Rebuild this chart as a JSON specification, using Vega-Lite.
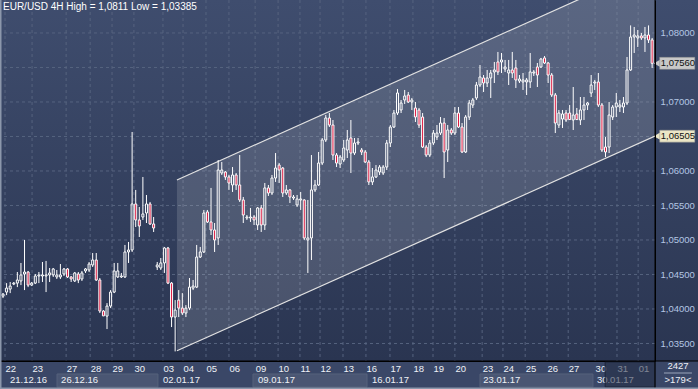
{
"$schema": "https://vega.github.io/schema/vega-lite/v6.json",
"width": 655, "height": 361,
"autosize": {"type": "none"},
"padding": {"left": 0, "top": 0, "right": 43, "bottom": 28},
"background": "#3a4767",
"title": {"text": "EUR/USD 4H High = 1,0811 Low = 1,03385", "anchor": "start", "frame": "group", "offset": -13, "fontSize": 10, "fontWeight": "normal", "font": "Liberation Sans", "color": "#ffffff", "dx": 3},
"resolve": {"axis": {"x": "independent", "y": "independent"}},
"datasets": {
"candles": [
{"i":1,"o":1.04187,"h":1.0423,"l":1.04158,"c":1.04216},
{"i":2,"o":1.04245,"h":1.04375,"l":1.04201,"c":1.04303},
{"i":3,"o":1.04288,"h":1.04391,"l":1.0423,"c":1.04332},
{"i":4,"o":1.04361,"h":1.04391,"l":1.04346,"c":1.04375},
{"i":5,"o":1.04375,"h":1.04536,"l":1.04317,"c":1.0442},
{"i":6,"o":1.04406,"h":1.04667,"l":1.04346,"c":1.04493},
{"i":7,"o":1.04507,"h":1.05,"l":1.04274,"c":1.04536},
{"i":8,"o":1.04536,"h":1.04551,"l":1.04317,"c":1.04346},
{"i":9,"o":1.04346,"h":1.04391,"l":1.04332,"c":1.04375},
{"i":10,"o":1.04375,"h":1.04507,"l":1.04361,"c":1.04478},
{"i":11,"o":1.04478,"h":1.04536,"l":1.04375,"c":1.04493},
{"i":12,"o":1.04478,"h":1.04681,"l":1.04391,"c":1.04493},
{"i":13,"o":1.04478,"h":1.04696,"l":1.04245,"c":1.04493},
{"i":14,"o":1.04493,"h":1.04594,"l":1.04391,"c":1.04522},
{"i":15,"o":1.04493,"h":1.04594,"l":1.04464,"c":1.0458},
{"i":16,"o":1.04464,"h":1.04565,"l":1.04435,"c":1.04493},
{"i":17,"o":1.04464,"h":1.04652,"l":1.04435,"c":1.04493},
{"i":18,"o":1.04507,"h":1.04594,"l":1.04478,"c":1.0458},
{"i":19,"o":1.0458,"h":1.04594,"l":1.04449,"c":1.04464},
{"i":20,"o":1.04464,"h":1.04478,"l":1.04391,"c":1.04435},
{"i":21,"o":1.04406,"h":1.04536,"l":1.04391,"c":1.04522},
{"i":22,"o":1.04507,"h":1.04536,"l":1.04375,"c":1.0442},
{"i":23,"o":1.04435,"h":1.04551,"l":1.04406,"c":1.04522},
{"i":24,"o":1.04551,"h":1.04594,"l":1.04522,"c":1.0458},
{"i":25,"o":1.04565,"h":1.04681,"l":1.04536,"c":1.04652},
{"i":26,"o":1.04638,"h":1.04811,"l":1.04609,"c":1.0471},
{"i":27,"o":1.0471,"h":1.04811,"l":1.04406,"c":1.0442},
{"i":28,"o":1.0442,"h":1.04449,"l":1.03941,"c":1.0397},
{"i":29,"o":1.0397,"h":1.03984,"l":1.03897,"c":1.039},
{"i":30,"o":1.03897,"h":1.04085,"l":1.03709,"c":1.04042},
{"i":31,"o":1.04042,"h":1.04274,"l":1.04013,"c":1.04245},
{"i":32,"o":1.04245,"h":1.04667,"l":1.0423,"c":1.04551},
{"i":33,"o":1.04464,"h":1.04667,"l":1.04449,"c":1.04551},
{"i":34,"o":1.04464,"h":1.04522,"l":1.04449,"c":1.04478},
{"i":35,"o":1.04464,"h":1.04928,"l":1.04449,"c":1.04826},
{"i":36,"o":1.04826,"h":1.04971,"l":1.04667,"c":1.04855},
{"i":37,"o":1.04855,"h":1.06565,"l":1.04826,"c":1.05522},
{"i":38,"o":1.05522,"h":1.05725,"l":1.05188,"c":1.0529},
{"i":39,"o":1.0529,"h":1.05478,"l":1.05043,"c":1.05203},
{"i":40,"o":1.05333,"h":1.05913,"l":1.0529,"c":1.05377},
{"i":41,"o":1.05391,"h":1.05652,"l":1.05246,"c":1.05522},
{"i":42,"o":1.05522,"h":1.05551,"l":1.05217,"c":1.05232},
{"i":43,"o":1.05232,"h":1.05333,"l":1.05116,"c":1.05174},
{"i":44,"o":1.04609,"h":1.04681,"l":1.04565,"c":1.04638},
{"i":45,"o":1.04594,"h":1.04739,"l":1.04565,"c":1.04667},
{"i":46,"o":1.04667,"h":1.04899,"l":1.04522,"c":1.04884},
{"i":47,"o":1.04884,"h":1.04899,"l":1.04361,"c":1.04375},
{"i":48,"o":1.04375,"h":1.04391,"l":1.03738,"c":1.03883},
{"i":49,"o":1.03883,"h":1.04129,"l":1.03385,"c":1.03984},
{"i":50,"o":1.04129,"h":1.04274,"l":1.03883,"c":1.04013},
{"i":51,"o":1.04013,"h":1.0423,"l":1.03912,"c":1.03941},
{"i":52,"o":1.03941,"h":1.04056,"l":1.03883,"c":1.04013},
{"i":53,"o":1.04013,"h":1.04449,"l":1.03984,"c":1.04317},
{"i":54,"o":1.04303,"h":1.0442,"l":1.04274,"c":1.04332},
{"i":55,"o":1.04317,"h":1.04928,"l":1.04303,"c":1.04753},
{"i":56,"o":1.04753,"h":1.04899,"l":1.04739,"c":1.04826},
{"i":57,"o":1.04826,"h":1.05435,"l":1.04811,"c":1.05391},
{"i":58,"o":1.05406,"h":1.05435,"l":1.05246,"c":1.05261},
{"i":59,"o":1.05261,"h":1.05754,"l":1.05072,"c":1.05145},
{"i":60,"o":1.05145,"h":1.05246,"l":1.04826,"c":1.05},
{"i":61,"o":1.05029,"h":1.06159,"l":1.04928,"c":1.06014},
{"i":62,"o":1.05971,"h":1.0613,"l":1.05942,"c":1.06014},
{"i":63,"o":1.05985,"h":1.06,"l":1.0587,"c":1.05913},
{"i":64,"o":1.05913,"h":1.05942,"l":1.05725,"c":1.05826},
{"i":65,"o":1.05797,"h":1.06057,"l":1.05696,"c":1.05942},
{"i":66,"o":1.05942,"h":1.05971,"l":1.05725,"c":1.05797},
{"i":67,"o":1.05797,"h":1.06231,"l":1.05551,"c":1.0558},
{"i":68,"o":1.0558,"h":1.05623,"l":1.05246,"c":1.05362},
{"i":69,"o":1.05319,"h":1.05362,"l":1.0529,"c":1.05333},
{"i":70,"o":1.05319,"h":1.05464,"l":1.05261,"c":1.05333},
{"i":71,"o":1.05333,"h":1.05362,"l":1.05217,"c":1.0529},
{"i":72,"o":1.05217,"h":1.05478,"l":1.05145,"c":1.05464},
{"i":73,"o":1.05464,"h":1.05507,"l":1.05116,"c":1.05217},
{"i":74,"o":1.05217,"h":1.05826,"l":1.05145,"c":1.05754},
{"i":75,"o":1.05754,"h":1.05797,"l":1.05638,"c":1.05681},
{"i":76,"o":1.05681,"h":1.05942,"l":1.05652,"c":1.05898},
{"i":77,"o":1.05898,"h":1.0626,"l":1.05841,"c":1.06043},
{"i":78,"o":1.06086,"h":1.06115,"l":1.05826,"c":1.06014},
{"i":79,"o":1.06043,"h":1.06057,"l":1.05623,"c":1.05681},
{"i":80,"o":1.05681,"h":1.05797,"l":1.05652,"c":1.05725},
{"i":81,"o":1.05725,"h":1.05739,"l":1.05536,"c":1.05623},
{"i":82,"o":1.05608,"h":1.05652,"l":1.0558,"c":1.05623},
{"i":83,"o":1.05507,"h":1.05652,"l":1.05478,"c":1.05594},
{"i":84,"o":1.0558,"h":1.05696,"l":1.05435,"c":1.05594},
{"i":85,"o":1.0558,"h":1.0559,"l":1.05,"c":1.05029},
{"i":86,"o":1.05,"h":1.0558,"l":1.04522,"c":1.05029},
{"i":87,"o":1.05029,"h":1.06231,"l":1.0471,"c":1.05725},
{"i":88,"o":1.05725,"h":1.0587,"l":1.05696,"c":1.05797},
{"i":89,"o":1.05797,"h":1.06275,"l":1.05783,"c":1.06115},
{"i":90,"o":1.06115,"h":1.06478,"l":1.06086,"c":1.06449},
{"i":91,"o":1.06449,"h":1.06811,"l":1.0642,"c":1.06768},
{"i":92,"o":1.06768,"h":1.0684,"l":1.06637,"c":1.06666},
{"i":93,"o":1.06666,"h":1.06739,"l":1.06159,"c":1.06231},
{"i":94,"o":1.06231,"h":1.0626,"l":1.06057,"c":1.06115},
{"i":95,"o":1.06101,"h":1.06231,"l":1.06043,"c":1.06202},
{"i":96,"o":1.06159,"h":1.06449,"l":1.0613,"c":1.06333},
{"i":97,"o":1.06304,"h":1.06594,"l":1.06188,"c":1.06449},
{"i":98,"o":1.06478,"h":1.06739,"l":1.05971,"c":1.0626},
{"i":99,"o":1.0626,"h":1.06478,"l":1.06231,"c":1.06405},
{"i":100,"o":1.06405,"h":1.06478,"l":1.06376,"c":1.0642},
{"i":101,"o":1.06304,"h":1.06333,"l":1.06231,"c":1.06275},
{"i":102,"o":1.06275,"h":1.06304,"l":1.06115,"c":1.0613},
{"i":103,"o":1.0613,"h":1.06159,"l":1.05797,"c":1.05841},
{"i":104,"o":1.05841,"h":1.06043,"l":1.05797,"c":1.05913},
{"i":105,"o":1.05913,"h":1.06086,"l":1.05898,"c":1.06014},
{"i":106,"o":1.05985,"h":1.06086,"l":1.05942,"c":1.06057},
{"i":107,"o":1.05971,"h":1.06086,"l":1.05942,"c":1.06057},
{"i":108,"o":1.06057,"h":1.06449,"l":1.06014,"c":1.06405},
{"i":109,"o":1.06405,"h":1.06666,"l":1.06347,"c":1.06637},
{"i":110,"o":1.06637,"h":1.06884,"l":1.06623,"c":1.0684},
{"i":111,"o":1.0684,"h":1.07188,"l":1.06811,"c":1.0713},
{"i":112,"o":1.06884,"h":1.07029,"l":1.0684,"c":1.06985},
{"i":113,"o":1.07029,"h":1.07174,"l":1.06971,"c":1.07087},
{"i":114,"o":1.07101,"h":1.07145,"l":1.06985,"c":1.07},
{"i":115,"o":1.07,"h":1.07058,"l":1.06884,"c":1.07029},
{"i":116,"o":1.06913,"h":1.07,"l":1.0671,"c":1.06782},
{"i":117,"o":1.06884,"h":1.06913,"l":1.06623,"c":1.06666},
{"i":118,"o":1.06782,"h":1.0684,"l":1.06333,"c":1.06347},
{"i":119,"o":1.06347,"h":1.06376,"l":1.06202,"c":1.06231},
{"i":120,"o":1.06231,"h":1.06449,"l":1.06202,"c":1.06405},
{"i":121,"o":1.06405,"h":1.06594,"l":1.06376,"c":1.0655},
{"i":122,"o":1.06492,"h":1.06666,"l":1.06449,"c":1.0655},
{"i":123,"o":1.0655,"h":1.06782,"l":1.06521,"c":1.06695},
{"i":124,"o":1.06695,"h":1.06768,"l":1.05898,"c":1.06275},
{"i":125,"o":1.06304,"h":1.06666,"l":1.0613,"c":1.06594},
{"i":126,"o":1.06594,"h":1.06623,"l":1.06521,"c":1.0655},
{"i":127,"o":1.0655,"h":1.06927,"l":1.06521,"c":1.0684},
{"i":128,"o":1.0684,"h":1.06927,"l":1.06623,"c":1.06637},
{"i":129,"o":1.06637,"h":1.06695,"l":1.0626,"c":1.06275},
{"i":130,"o":1.06275,"h":1.06811,"l":1.0626,"c":1.06782},
{"i":131,"o":1.06782,"h":1.07029,"l":1.06739,"c":1.06985},
{"i":132,"o":1.06956,"h":1.07058,"l":1.06913,"c":1.07029},
{"i":133,"o":1.07058,"h":1.0729,"l":1.07029,"c":1.07246},
{"i":134,"o":1.07246,"h":1.07536,"l":1.07217,"c":1.07362},
{"i":135,"o":1.07348,"h":1.07391,"l":1.07145,"c":1.07275},
{"i":136,"o":1.07275,"h":1.07464,"l":1.07217,"c":1.07348},
{"i":137,"o":1.07348,"h":1.07464,"l":1.07058,"c":1.0742},
{"i":138,"o":1.07435,"h":1.0758,"l":1.07275,"c":1.07464},
{"i":139,"o":1.0758,"h":1.07725,"l":1.07391,"c":1.07435},
{"i":140,"o":1.0758,"h":1.0771,"l":1.0742,"c":1.07609},
{"i":141,"o":1.07478,"h":1.07609,"l":1.07435,"c":1.07507},
{"i":142,"o":1.0742,"h":1.07609,"l":1.07246,"c":1.07464},
{"i":143,"o":1.07464,"h":1.07725,"l":1.07348,"c":1.0742},
{"i":144,"o":1.07493,"h":1.07609,"l":1.07203,"c":1.07319},
{"i":145,"o":1.07304,"h":1.07391,"l":1.07275,"c":1.07333},
{"i":146,"o":1.0729,"h":1.0742,"l":1.07174,"c":1.07319},
{"i":147,"o":1.0729,"h":1.07348,"l":1.07101,"c":1.07319},
{"i":148,"o":1.0729,"h":1.0771,"l":1.07203,"c":1.07435},
{"i":149,"o":1.0742,"h":1.07464,"l":1.07377,"c":1.07435},
{"i":150,"o":1.07507,"h":1.07565,"l":1.07217,"c":1.07391},
{"i":151,"o":1.07507,"h":1.07638,"l":1.07493,"c":1.07623},
{"i":152,"o":1.07638,"h":1.07666,"l":1.07551,"c":1.07565},
{"i":153,"o":1.07565,"h":1.0758,"l":1.07275,"c":1.07391},
{"i":154,"o":1.07391,"h":1.0742,"l":1.07072,"c":1.07101},
{"i":155,"o":1.07101,"h":1.0713,"l":1.0655,"c":1.06695},
{"i":156,"o":1.06666,"h":1.06884,"l":1.06623,"c":1.0684},
{"i":157,"o":1.06753,"h":1.06884,"l":1.06623,"c":1.06826},
{"i":158,"o":1.0684,"h":1.06884,"l":1.0671,"c":1.06739},
{"i":159,"o":1.0684,"h":1.06956,"l":1.06739,"c":1.06745},
{"i":160,"o":1.06739,"h":1.07217,"l":1.06594,"c":1.06811},
{"i":161,"o":1.06826,"h":1.06913,"l":1.06739,"c":1.06745},
{"i":162,"o":1.06739,"h":1.07072,"l":1.06666,"c":1.06884},
{"i":163,"o":1.06884,"h":1.07072,"l":1.06739,"c":1.06956},
{"i":164,"o":1.06956,"h":1.07,"l":1.06884,"c":1.06985},
{"i":165,"o":1.0713,"h":1.07391,"l":1.07072,"c":1.07246},
{"i":166,"o":1.07275,"h":1.07319,"l":1.07174,"c":1.0729},
{"i":167,"o":1.0729,"h":1.0742,"l":1.06927,"c":1.06956},
{"i":168,"o":1.06956,"h":1.06985,"l":1.06275,"c":1.06304},
{"i":169,"o":1.06347,"h":1.06492,"l":1.06202,"c":1.06275},
{"i":170,"o":1.06347,"h":1.07,"l":1.0626,"c":1.06811},
{"i":171,"o":1.06782,"h":1.06956,"l":1.06739,"c":1.06927},
{"i":172,"o":1.06927,"h":1.0713,"l":1.06782,"c":1.06985},
{"i":173,"o":1.06927,"h":1.07029,"l":1.06855,"c":1.06956},
{"i":174,"o":1.06927,"h":1.07072,"l":1.0684,"c":1.06985},
{"i":175,"o":1.06985,"h":1.07652,"l":1.06956,"c":1.07464},
{"i":176,"o":1.07464,"h":1.0811,"l":1.0745,"c":1.07942},
{"i":177,"o":1.07942,"h":1.08087,"l":1.0771,"c":1.07971},
{"i":178,"o":1.07928,"h":1.08043,"l":1.07797,"c":1.07957},
{"i":179,"o":1.07957,"h":1.08,"l":1.07899,"c":1.07928},
{"i":180,"o":1.07928,"h":1.08087,"l":1.07725,"c":1.07971},
{"i":181,"o":1.07971,"h":1.0811,"l":1.07855,"c":1.07899},
{"i":182,"o":1.07899,"h":1.07928,"l":1.07493,"c":1.0756}
],
"channel": [{"i":49.5,"lo":1.03394,"hi":1.0587},{"i":182.8,"lo":1.06505,"hi":1.08981}],
"gx": [{"i":1.56},{"i":9.1},{"i":18.6},{"i":25.3},{"i":31.4},{"i":37.5},{"i":45.6},{"i":51.2},{"i":57.6},{"i":64},{"i":71.3},{"i":77.7},{"i":83.8},{"i":89.4},{"i":95.8},{"i":102.2},{"i":108.9},{"i":115.3},{"i":120.9},{"i":127},{"i":134.6},{"i":140.4},{"i":146.6},{"i":152.7},{"i":158.6},{"i":166.1},{"i":172.2},{"i":178.1}],
"gy": [{"p":1.035},{"p":1.04},{"p":1.045},{"p":1.05},{"p":1.055},{"p":1.06},{"p":1.065},{"p":1.07},{"p":1.075},{"p":1.08}],
"weeks": [{"i":2.95,"t":"21.12.16"},{"i":17.2,"t":"26.12.16"},{"i":45.6,"t":"02.01.17"},{"i":72.1,"t":"09.01.17"},{"i":103.9,"t":"16.01.17"},{"i":134.9,"t":"23.01.17"},{"i":166.6,"t":"30.01.17"}],
"weekboxes": [{"s":16.06,"e":44.2},{"s":70.7,"e":102.5},{"s":134.0,"e":165.5}],
"marks": [{"p":1.0756,"t":"1,07560","k":"bid"},{"p":1.06505,"t":"1,06505","k":"line"}],
"one": [{"n":1}]
},
"layer": [
{"data":{"name":"one"},
 "mark":{"type":"rect","fill":{"gradient":"linear","x1":0,"y1":0,"x2":0,"y2":1,"stops":[{"offset":0,"color":"#3f4d6e"},{"offset":1,"color":"#2a3551"}]}},
 "encoding":{"x":{"datum":0.16,"type":"quantitative","scale":{"domain":[0.16,182.8],"nice":false,"zero":false},"axis":null},
 "x2":{"datum":194.8},
 "y":{"datum":1.08478,"type":"quantitative","scale":{"domain":[1.03246,1.08478],"nice":false,"zero":false},"axis":null},
 "y2":{"datum":1.03246}}},
{"data":{"name":"gx"},
 "mark":{"type":"rule","color":"#56637f","strokeWidth":1,"strokeDash":[3,3]},
 "encoding":{"x":{"field":"i","type":"quantitative","scale":{"domain":[0.16,182.8],"nice":false,"zero":false},"axis":null}}},
{"data":{"name":"gy"},
 "mark":{"type":"rule","color":"#56637f","strokeWidth":1,"strokeDash":[3,3]},
 "encoding":{"y":{"field":"p","type":"quantitative","scale":{"domain":[1.03246,1.08478],"nice":false,"zero":false},"axis":null}}},
{"data":{"name":"channel"},"mark":{"type":"area","clip":true,"fill":"#ffffff","fillOpacity":0.14},
 "encoding":{"x":{"field":"i","type":"quantitative","scale":{"domain":[0.16,182.8],"nice":false,"zero":false},
   "axis":{"values":[1.56,9.1,18.6,25.3,31.4,37.5,45.6,51.2,57.6,64,71.3,77.7,83.8,89.4,95.8,102.2,108.9,115.3,120.9,127,134.6,140.4,146.6,152.7,158.6,166.1,172.2,178.1],
   "labelExpr":"['22','23','27','28','29','30','03','04','05','06','09','10','11','12','13','16','17','18','19','20','23','24','25','26','27','30','31','01'][indexof([1.56,9.1,18.6,25.3,31.4,37.5,45.6,51.2,57.6,64,71.3,77.7,83.8,89.4,95.8,102.2,108.9,115.3,120.9,127,134.6,140.4,146.6,152.7,158.6,166.1,172.2,178.1], datum.value)]",
   "labelAlign":"left","labelBaseline":"top","labelPadding":2,"labelColor":"#eef1f6","labelFontSize":9.5,"labelFont":"Liberation Sans","labelFlush":false,"labelOverlap":false,"labelBound":false,
   "ticks":false,"domain":true,"domainColor":"#000000","domainWidth":1,"grid":false,"title":null}},
 "y":{"field":"lo","type":"quantitative","scale":{"domain":[1.03246,1.08478],"nice":false,"zero":false},
   "axis":{"orient":"right","zindex":1,"values":[1.035,1.04,1.045,1.05,1.055,1.06,1.07,1.08],"labelExpr":"replace(format(datum.value, '.5f'), '.', ',')",
   "labelPadding":5,"labelColor":"#b4c6e4","labelFontSize":9.5,"labelFont":"Liberation Sans","labelOverlap":false,"labelFlush":false,"ticks":false,"domain":true,"domainColor":"#000000","domainWidth":1,
   "grid":false,"title":null}},
 "y2":{"field":"hi"}}},
{"data":{"name":"channel"},"mark":{"type":"line","clip":true,"color":"#e2e2e2","strokeWidth":1.2},
 "encoding":{"x":{"field":"i","type":"quantitative","scale":{"domain":[0.16,182.8],"nice":false,"zero":false},"axis":null},
 "y":{"field":"lo","type":"quantitative","scale":{"domain":[1.03246,1.08478],"nice":false,"zero":false},"axis":null}}},
{"data":{"name":"channel"},"mark":{"type":"line","clip":true,"color":"#e2e2e2","strokeWidth":1.2},
 "encoding":{"x":{"field":"i","type":"quantitative","scale":{"domain":[0.16,182.8],"nice":false,"zero":false},"axis":null},
 "y":{"field":"hi","type":"quantitative","scale":{"domain":[1.03246,1.08478],"nice":false,"zero":false},"axis":null}}},
{"data":{"name":"candles"},
 "transform":[{"calculate":"max(datum.o, datum.c)","as":"top"}],
 "mark":{"type":"rule","color":"#ffffff","strokeWidth":1},
 "encoding":{"x":{"field":"i","type":"quantitative","scale":{"domain":[0.16,182.8],"nice":false,"zero":false},"axis":null},
 "y":{"field":"h","type":"quantitative","scale":{"domain":[1.03246,1.08478],"nice":false,"zero":false},"axis":null},
 "y2":{"field":"top"}}},
{"data":{"name":"candles"},
 "transform":[{"calculate":"min(datum.o, datum.c)","as":"bot"}],
 "mark":{"type":"rule","color":"#ffffff","strokeWidth":1},
 "encoding":{"x":{"field":"i","type":"quantitative","scale":{"domain":[0.16,182.8],"nice":false,"zero":false},"axis":null},
 "y":{"field":"bot","type":"quantitative","scale":{"domain":[1.03246,1.08478],"nice":false,"zero":false},"axis":null},
 "y2":{"field":"l"}}},
{"data":{"name":"candles"},
 "mark":{"type":"bar","orient":"vertical","size":2,"stroke":"#ffffff","strokeWidth":1},
 "encoding":{"x":{"field":"i","type":"quantitative","scale":{"domain":[0.16,182.8],"nice":false,"zero":false},"axis":null},
 "y":{"field":"o","type":"quantitative","scale":{"domain":[1.03246,1.08478],"nice":false,"zero":false},"axis":null},
 "y2":{"field":"c"},
 "fill":{"condition":{"test":"datum.c < datum.o","value":"#dc143c"},"value":"transparent"}}},
{"data":{"name":"weekboxes"},
 "mark":{"type":"rect","fill":"#4a5673","stroke":"#56627c","strokeWidth":1},
 "encoding":{"x":{"field":"s","type":"quantitative","scale":{"domain":[0.16,182.8],"nice":false,"zero":false},"axis":null},
 "x2":{"field":"e"},
 "y":{"datum":1.03058,"type":"quantitative","scale":{"domain":[1.03246,1.08478],"nice":false,"zero":false},"axis":null},
 "y2":{"datum":1.02869}}},
{"data":{"name":"weeks"},
 "mark":{"type":"text","align":"left","baseline":"middle","color":"#eef1f6","fontSize":9.5,"font":"Liberation Sans"},
 "encoding":{"x":{"field":"i","type":"quantitative","scale":{"domain":[0.16,182.8],"nice":false,"zero":false},"axis":null},
 "y":{"datum":1.0297,"type":"quantitative","scale":{"domain":[1.03246,1.08478],"nice":false,"zero":false},"axis":null},
 "text":{"field":"t"}}},
{"data":{"name":"one"},
 "mark":{"type":"rect","fill":"#222c44","fillOpacity":0.55,"stroke":"#1c2438","strokeWidth":1},
 "encoding":{"x":{"datum":168.9,"type":"quantitative","scale":{"domain":[0.16,182.8],"nice":false,"zero":false},"axis":null},
 "x2":{"datum":182.8},
 "y":{"datum":1.03232,"type":"quantitative","scale":{"domain":[1.03246,1.08478],"nice":false,"zero":false},"axis":null},
 "y2":{"datum":1.02869}}},
{"data":{"name":"one"},
 "mark":{"type":"rule","color":"#000000","strokeWidth":1},
 "encoding":{"x":{"datum":182.8,"type":"quantitative","scale":{"domain":[0.16,182.8],"nice":false,"zero":false},"axis":null},
 "y":{"datum":1.08478,"type":"quantitative","scale":{"domain":[1.03246,1.08478],"nice":false,"zero":false},"axis":null},
 "y2":{"datum":1.0284}}},
{"data":{"name":"one"},
 "mark":{"type":"rule","color":"#000000","strokeWidth":1},
 "encoding":{"x":{"datum":0.16,"type":"quantitative","scale":{"domain":[0.16,182.8],"nice":false,"zero":false},"axis":null},
 "x2":{"datum":194.8},
 "y":{"datum":1.03246,"type":"quantitative","scale":{"domain":[1.03246,1.08478],"nice":false,"zero":false},"axis":null}}},
{"data":{"name":"one"},
 "mark":{"type":"rule","color":"#8c97ab","strokeWidth":2},
 "encoding":{"x":{"datum":0.16,"type":"quantitative","scale":{"domain":[0.16,182.8],"nice":false,"zero":false},"axis":null},
 "x2":{"datum":194.8},
 "y":{"datum":1.02847,"type":"quantitative","scale":{"domain":[1.03246,1.08478],"nice":false,"zero":false},"axis":null}}},
{"data":{"name":"one"},
 "mark":{"type":"rule","color":"#8c97ab","strokeWidth":2},
 "encoding":{"x":{"datum":0.3,"type":"quantitative","scale":{"domain":[0.16,182.8],"nice":false,"zero":false},"axis":null},
 "y":{"datum":1.08478,"type":"quantitative","scale":{"domain":[1.03246,1.08478],"nice":false,"zero":false},"axis":null},
 "y2":{"datum":1.0284}}},
{"data":{"name":"marks"},
 "mark":{"type":"bar","orient":"horizontal","size":12,"stroke":"#8a8a8a","strokeWidth":0.5},
 "encoding":{"x":{"datum":184.1,"type":"quantitative","scale":{"domain":[0.16,182.8],"nice":false,"zero":false},"axis":null},
 "x2":{"datum":193.9},
 "y":{"field":"p","type":"quantitative","scale":{"domain":[1.03246,1.08478],"nice":false,"zero":false},"axis":null},
 "fill":{"field":"k","type":"nominal","scale":{"domain":["bid","line"],"range":["#c8c8c8","#ebe6c6"]},"legend":null}}},
{"data":{"name":"marks"},
 "mark":{"type":"point","shape":"triangle-left","filled":true,"size":45,"opacity":1},
 "encoding":{"x":{"datum":183.3,"type":"quantitative","scale":{"domain":[0.16,182.8],"nice":false,"zero":false},"axis":null},
 "y":{"field":"p","type":"quantitative","scale":{"domain":[1.03246,1.08478],"nice":false,"zero":false},"axis":null},
 "fill":{"field":"k","type":"nominal","scale":{"domain":["bid","line"],"range":["#c8c8c8","#ebe6c6"]},"legend":null}}},
{"data":{"name":"marks"},
 "mark":{"type":"text","align":"left","baseline":"middle","color":"#111111","fontSize":9.5,"font":"Liberation Sans"},
 "encoding":{"x":{"datum":184.4,"type":"quantitative","scale":{"domain":[0.16,182.8],"nice":false,"zero":false},"axis":null},
 "y":{"field":"p","type":"quantitative","scale":{"domain":[1.03246,1.08478],"nice":false,"zero":false},"axis":null},
 "text":{"field":"t"}}},
{"data":{"name":"one"},
 "mark":{"type":"text","align":"center","baseline":"middle","color":"#eef1f6","fontSize":9.5,"font":"Liberation Sans","text":"2427"},
 "encoding":{"x":{"datum":189.2,"type":"quantitative","scale":{"domain":[0.16,182.8],"nice":false,"zero":false},"axis":null},
 "y":{"datum":1.03174,"type":"quantitative","scale":{"domain":[1.03246,1.08478],"nice":false,"zero":false},"axis":null}}},
{"data":{"name":"one"},
 "mark":{"type":"text","align":"center","baseline":"middle","color":"#eef1f6","fontSize":9.5,"font":"Liberation Sans","text":">179<"},
 "encoding":{"x":{"datum":189.2,"type":"quantitative","scale":{"domain":[0.16,182.8],"nice":false,"zero":false},"axis":null},
 "y":{"datum":1.02966,"type":"quantitative","scale":{"domain":[1.03246,1.08478],"nice":false,"zero":false},"axis":null}}},
{"data":{"name":"one"},
 "mark":{"type":"rule","color":"#9aa6bb","strokeWidth":1},
 "encoding":{"x":{"datum":185.3,"type":"quantitative","scale":{"domain":[0.16,182.8],"nice":false,"zero":false},"axis":null},
 "x2":{"datum":193.1},
 "y":{"datum":1.03072,"type":"quantitative","scale":{"domain":[1.03246,1.08478],"nice":false,"zero":false},"axis":null}}}
],
"config": {
 "font": "Liberation Sans",
 "scale": {"continuousPadding": 0},
 "view": {"stroke": null, "fill": null}
}
}
